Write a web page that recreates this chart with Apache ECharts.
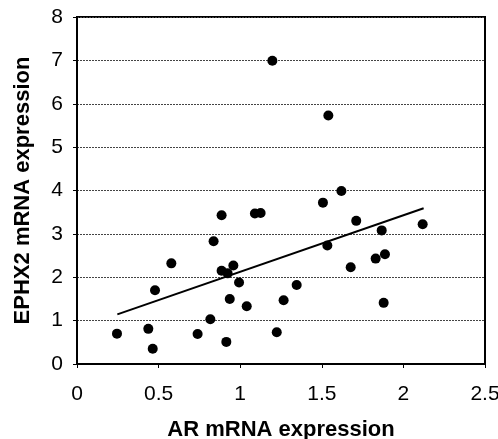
<!DOCTYPE html>
<html><head><meta charset="utf-8">
<script src="https://cdn.jsdelivr.net/npm/echarts@6/dist/echarts.min.js"></script>
<style>html,body{margin:0;padding:0;background:#fff}#c{width:498px;height:439px}</style>
</head><body><div id="c"></div>
<script>
var arValues = [0.245,0.437,0.464,0.478,0.578,0.739,0.817,0.837,0.886,0.886,0.923,0.958,0.993,0.936,0.915,1.04,1.09,1.125,1.197,1.224,1.266,1.346,1.54,1.507,1.62,1.534,1.711,1.677,1.83,1.867,1.887,1.879,2.118];
var ephx2Values = [0.70,0.81,0.35,1.70,2.32,0.69,1.03,2.83,3.43,2.15,2.09,2.27,1.88,1.50,0.51,1.33,3.47,3.48,6.99,0.73,1.47,1.82,5.73,3.72,3.99,2.73,3.30,2.23,2.43,3.08,2.53,1.41,3.22];
var trendX = [0.247, 2.124];
var trendY = [1.145, 3.59];
var xTicks = [0,0.5,1,1.5,2,2.5];
var yTicks = [0,1,2,3,4,5,6,7,8];

var pts = arValues.map(function(x,i){return [x, ephx2Values[i]];});
var trend = trendX.map(function(x,i){return [x, trendY[i]];});
var font = 'Liberation Sans, Arial, sans-serif';
var chart = echarts.init(document.getElementById('c'));
chart.setOption({
  animation:false,
  grid:{left:77,top:17,width:408,height:347,containLabel:false,outerBoundsMode:'none',show:true,borderColor:'#000',borderWidth:2,backgroundColor:'transparent'},
  xAxis:{type:'value',min:xTicks[0],max:xTicks[xTicks.length-1],interval:0.5,
    name:'AR mRNA expression',nameLocation:'middle',nameGap:55,
    nameTextStyle:{fontFamily:font,fontSize:22,fontWeight:'bold',color:'#000'},
    axisLine:{lineStyle:{color:'#000',width:2}},
    axisTick:{show:true,inside:false,length:4,lineStyle:{color:'#000',width:1}},
    axisLabel:{fontFamily:font,fontSize:21,color:'#000',margin:20,formatter:function(v){return String(v);}},
    splitLine:{show:false}},
  yAxis:{type:'value',min:yTicks[0],max:yTicks[yTicks.length-1],interval:1,
    name:'EPHX2 mRNA expression',nameLocation:'middle',nameGap:43,
    nameTextStyle:{fontFamily:font,fontSize:22,fontWeight:'bold',color:'#000'},
    axisLine:{show:true,lineStyle:{color:'#000',width:2}},
    axisTick:{show:true,inside:false,length:4,lineStyle:{color:'#000',width:1}},
    axisLabel:{fontFamily:font,fontSize:21,color:'#000',margin:14},
    splitLine:{show:true,lineStyle:{color:'#444',width:1,type:[2,1]}}},
  series:[
    {type:'scatter',data:pts,symbol:'circle',symbolSize:10,itemStyle:{color:'#000',opacity:1},z:3},
    {type:'line',data:trend,symbol:'none',lineStyle:{color:'#000',width:2},z:2}
  ]
});
</script></body></html>
